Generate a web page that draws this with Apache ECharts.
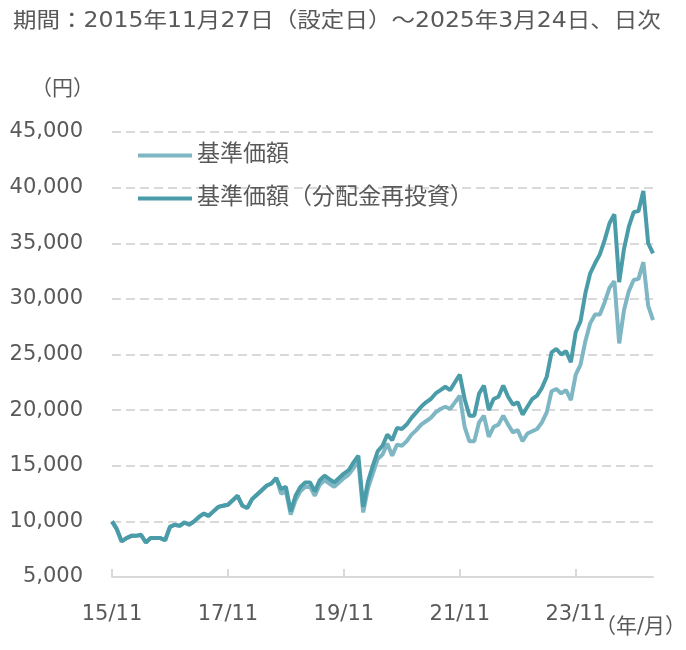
<!DOCTYPE html>
<html>
<head>
    <meta charset="utf-8" />
    <title>基準価額の推移</title>
    <script src="https://cdn.jsdelivr.net/npm/echarts@6/dist/echarts.min.js"></script>
    <style>
        html, body { margin: 0; padding: 0; background: #fff; }
        #main { width: 686px; height: 650px; }
    </style>
</head>
<body>
    <div id="main"></div>
    <script type="text/javascript">
        // 月次（2015/11 ～ 2025/03）、グラフから読み取った概算値
        var startYear = 2015, startMonth = 11, monthCount = 113;
        var months = [];
        for (var i = 0; i < monthCount; i++) {
            var m = startMonth - 1 + i;
            var y = startYear + Math.floor(m / 12);
            var mm = (m % 12) + 1;
            months.push(String(y).slice(2) + '/' + (mm < 10 ? '0' + mm : mm));
        }

        var seriesNames = ['基準価額', '基準価額（分配金再投資）'];

        // 基準価額（分配金再投資）
        var navReinvest = [
            10000, 9300, 8200, 8500, 8700, 8700, 8800, 8100, 8500, 8500,
            8500, 8300, 9500, 9700, 9600, 9900, 9700, 10000, 10400, 10700,
            10500, 10900, 11300, 11400, 11500, 11900, 12300, 11400, 11200, 12000,
            12400, 12800, 13200, 13400, 13900, 12900, 13100, 10900, 12300, 13100,
            13500, 13500, 12700, 13700, 14100, 13800, 13500, 13900, 14300, 14600,
            15300, 15900, 11300, 13600, 15000, 16300, 16800, 17800, 17300, 18400,
            18300, 18700, 19300, 19800, 20300, 20700, 21000, 21500, 21800, 22100,
            21800, 22500, 23200, 21000, 19500, 19500, 21500, 22200, 20000, 21000,
            21200, 22200, 21200, 20500, 20700, 19600, 20300, 21000, 21300, 22000,
            23000, 25200, 25500, 25000, 25300, 24300, 27000, 28000, 30500, 32300,
            33200, 34000, 35300, 36800, 37600, 31500, 34500, 36500, 37800, 37900,
            39700, 35000, 34100
        ];

        // 基準価額
        var nav = [
            10000, 9300, 8200, 8500, 8700, 8700, 8800, 8100, 8500, 8500,
            8500, 8300, 9500, 9700, 9600, 9900, 9700, 10000, 10400, 10700,
            10500, 10900, 11300, 11400, 11500, 11900, 12300, 11400, 11200, 12000,
            12400, 12800, 13200, 13400, 13900, 12500, 12700, 10600, 11900, 12700,
            13100, 13100, 12300, 13300, 13700, 13400, 13100, 13500, 13900, 14200,
            14800, 15400, 10800, 13000, 14300, 15600, 16000, 17000, 15900, 16900,
            16800, 17200, 17800, 18200, 18700, 19000, 19300, 19800, 20100, 20300,
            20100, 20700, 21300, 18500, 17200, 17200, 18900, 19500, 17600, 18500,
            18700, 19500, 18700, 18000, 18200, 17200, 17900, 18100, 18300, 18900,
            19800, 21700, 21900, 21500, 21800, 20900, 23200, 24100, 26200, 27800,
            28600, 28600, 29700, 31000, 31600, 26000, 29000, 30700, 31700, 31800,
            33300, 29400, 28100
        ];

        var yMin = 5000, yMax = 45000, yStep = 5000;
        var colors = ['#7fb6c4', '#4a9ca8'];
        var font = '"DejaVu Sans", "Noto Sans CJK JP", sans-serif';
        var textColor = '#595959';

        var myChart = echarts.init(document.getElementById('main'));
        var option = {
            animation: false,
            color: colors,
            textStyle: { fontFamily: font },
            grid: { left: 112, right: 33, top: 132, bottom: 73, containLabel: false },
            graphic: [
                {
                    type: 'text', x: 13, y: 22, scaleX: 1.12,
                    style: { text: '期間：2015年11月27日（設定日）～2025年3月24日、日次', font: '21px ' + font, fill: textColor, verticalAlign: 'middle' }
                },
                { type: 'text', x: 31, y: 90, style: { text: '（円）', font: '21px ' + font, fill: textColor, verticalAlign: 'middle' } },
                { type: 'text', x: 595, y: 628, style: { text: '（年/月）', font: '21px ' + font, fill: textColor, verticalAlign: 'middle' } }
            ],
            legend: {
                orient: 'vertical',
                left: 138,
                top: 144,
                padding: 0,
                itemWidth: 54,
                itemHeight: 4,
                itemGap: 20,
                icon: 'rect',
                textStyle: { fontSize: 23, lineHeight: 23, color: textColor, fontFamily: font },
                data: seriesNames
            },
            xAxis: {
                type: 'category',
                boundaryGap: false,
                data: months,
                axisLine: { lineStyle: { color: '#d9d9d9', width: 2 } },
                axisTick: { interval: 23, inside: true, length: 8, lineStyle: { color: '#d9d9d9', width: 2 } },
                axisLabel: {
                    interval: 23, margin: 27, fontSize: 21, color: textColor, fontFamily: font
                },
                splitLine: { show: false }
            },
            yAxis: {
                type: 'value',
                min: yMin,
                max: yMax,
                interval: yStep,
                axisLine: { show: false },
                axisTick: { show: false },
                axisLabel: {
                    margin: 29, fontSize: 21, color: textColor, fontFamily: font,
                    formatter: function (v) { return v.toLocaleString('en-US'); }
                },
                splitLine: { lineStyle: { color: '#d9d9d9', width: 2, type: [9, 5] } }
            },
            series: [
                {
                    name: seriesNames[0], type: 'line', data: nav,
                    showSymbol: false, lineStyle: { width: 4, color: colors[0] }, itemStyle: { color: colors[0] }
                },
                {
                    name: seriesNames[1], type: 'line', data: navReinvest,
                    showSymbol: false, lineStyle: { width: 4, color: colors[1] }, itemStyle: { color: colors[1] }
                }
            ]
        };
        myChart.setOption(option);
    </script>
</body>
</html>
